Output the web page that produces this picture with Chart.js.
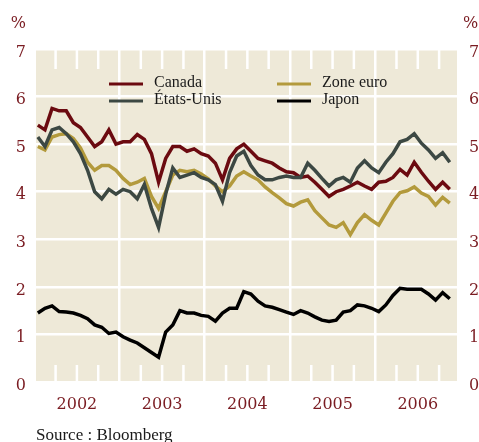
<!DOCTYPE html>
<html lang="fr">
<head>
<meta charset="utf-8">
<title>Rendements obligataires à 10 ans</title>
<script src="https://cdn.jsdelivr.net/npm/chart.js@4.4.1/dist/chart.umd.min.js"></script>
<style>
  html, body { margin: 0; padding: 0; background: #fff; }
  #cadre { position: relative; width: 479px; height: 442px; }
</style>
</head>
<body>
<div id="cadre"><canvas id="graficoTaux"></canvas></div>
<script>
// un point par mois
const mois = [
  '2002-01','2002-02','2002-03','2002-04','2002-05','2002-06','2002-07','2002-08','2002-09','2002-10','2002-11','2002-12',
  '2003-01','2003-02','2003-03','2003-04','2003-05','2003-06','2003-07','2003-08','2003-09','2003-10','2003-11','2003-12',
  '2004-01','2004-02','2004-03','2004-04','2004-05','2004-06','2004-07','2004-08','2004-09','2004-10','2004-11','2004-12',
  '2005-01','2005-02','2005-03','2005-04','2005-05','2005-06','2005-07','2005-08','2005-09','2005-10','2005-11','2005-12',
  '2006-01','2006-02','2006-03','2006-04','2006-05','2006-06','2006-07','2006-08','2006-09','2006-10','2006-11'
];

const canada = [
  5.40, 5.30, 5.75, 5.70, 5.70, 5.45, 5.35, 5.15, 4.95, 5.05, 5.30, 5.00,
  5.05, 5.05, 5.20, 5.10, 4.80, 4.20, 4.70, 4.95, 4.95, 4.85, 4.90, 4.80,
  4.75, 4.60, 4.25, 4.70, 4.90, 5.00, 4.85, 4.70, 4.65, 4.60, 4.50, 4.42,
  4.40, 4.30, 4.33, 4.20, 4.05, 3.90, 4.00, 4.05, 4.12, 4.20, 4.12, 4.05,
  4.20, 4.22, 4.30, 4.47, 4.35, 4.62, 4.41, 4.22, 4.05, 4.20, 4.05
];

const etatsUnis = [
  5.15, 4.95, 5.30, 5.35, 5.22, 5.05, 4.80, 4.45, 4.00, 3.85, 4.05, 3.95,
  4.05, 4.00, 3.85, 4.15, 3.65, 3.25, 3.95, 4.50, 4.30, 4.35, 4.40, 4.30,
  4.25, 4.15, 3.80, 4.40, 4.75, 4.85, 4.55, 4.35, 4.25, 4.25, 4.30, 4.33,
  4.30, 4.30, 4.60, 4.45, 4.28, 4.12, 4.25, 4.30, 4.20, 4.50, 4.65, 4.50,
  4.40, 4.62, 4.80, 5.05, 5.10, 5.22, 5.02, 4.88, 4.70, 4.82, 4.62
];

const zoneEuro = [
  4.95, 4.88, 5.15, 5.20, 5.22, 5.12, 4.92, 4.62, 4.45, 4.55, 4.55, 4.45,
  4.28, 4.15, 4.20, 4.28, 3.90, 3.65, 4.00, 4.35, 4.45, 4.42, 4.45, 4.37,
  4.27, 4.12, 4.00, 4.12, 4.33, 4.42, 4.33, 4.25, 4.10, 3.98, 3.87, 3.75,
  3.70, 3.78, 3.83, 3.60, 3.45, 3.30, 3.25, 3.35, 3.10, 3.35, 3.52, 3.40,
  3.30, 3.55, 3.80, 3.98, 4.02, 4.10, 3.97, 3.90, 3.72, 3.88, 3.76
];

const japon = [
  1.45, 1.55, 1.60, 1.48, 1.47, 1.45, 1.40, 1.33, 1.20, 1.15, 1.02, 1.05,
  0.95, 0.88, 0.82, 0.72, 0.62, 0.52, 1.05, 1.20, 1.50, 1.45, 1.45, 1.40,
  1.38, 1.28, 1.45, 1.55, 1.55, 1.90, 1.85, 1.70, 1.60, 1.57, 1.52, 1.47,
  1.42, 1.50, 1.45, 1.37, 1.30, 1.27, 1.30, 1.47, 1.50, 1.62, 1.60, 1.55,
  1.48, 1.62, 1.82, 1.97, 1.95, 1.95, 1.95, 1.85, 1.72, 1.88, 1.75
];

const annees = ['2002', '2003', '2004', '2005', '2006'];

const rouge = '#7A1C22';
const serif = '"DejaVu Serif", serif';

// '2002-03' -> 2002.208 (milieu du mois)
const enAnnee = m => Number(m.slice(0, 4)) + (Number(m.slice(5)) - 0.5) / 12;
const points = serie => mois.map((m, i) => ({ x: enAnnee(m), y: serie[i] }));

const habillage = {
  id: 'habillage',
  beforeDraw(chart) {
    const { ctx, chartArea: a } = chart;
    ctx.save();
    ctx.fillStyle = '#EEE9D8';
    ctx.fillRect(a.left, a.top, a.right - a.left, a.bottom - a.top);
    ctx.restore();
  },
  beforeDatasetsDraw(chart) {
    // petites graduations trimestrielles en haut et en bas
    const { ctx, chartArea: a, scales } = chart;
    ctx.save();
    ctx.strokeStyle = '#fff';
    ctx.lineWidth = 2.5;
    annees.forEach(an => {
      [0.25, 0.5, 0.75].forEach(q => {
        const x = scales.x.getPixelForValue(Number(an) + q);
        ctx.beginPath();
        ctx.moveTo(x, a.top);
        ctx.lineTo(x, a.top + 20);
        ctx.moveTo(x, a.bottom);
        ctx.lineTo(x, a.bottom - 17);
        ctx.stroke();
      });
    });
    ctx.restore();
  },
  afterDatasetsDraw(chart) {
    // légende sur deux colonnes, dans la zone du graphique
    const { ctx, chartArea: a } = chart;
    ctx.save();
    ctx.font = '16px "Liberation Serif", serif';
    ctx.textBaseline = 'middle';
    ctx.textAlign = 'left';
    chart.data.datasets.forEach((ds, i) => {
      const col = Math.floor(i / 2);
      const row = i % 2;
      const x0 = a.left + (col === 0 ? 73 : 241);
      const y = a.top + 35 + row * 17;
      ctx.strokeStyle = ds.borderColor;
      ctx.lineWidth = 3;
      ctx.beginPath();
      ctx.moveTo(x0, y);
      ctx.lineTo(x0 + 34, y);
      ctx.stroke();
      ctx.fillStyle = '#1a1a1a';
      ctx.fillText(ds.label, x0 + 45, y - 1);
    });
    ctx.restore();
  },
  afterDraw(chart) {
    const { ctx, chartArea: a } = chart;
    ctx.save();
    ctx.fillStyle = rouge;
    ctx.font = '16px ' + serif;
    ctx.textBaseline = 'middle';
    ctx.textAlign = 'right';
    ctx.fillText('%', a.left - 10, 24);
    ctx.textAlign = 'left';
    ctx.fillText('%', a.right + 6, 24);
    ctx.fillStyle = '#1a1a1a';
    ctx.font = '17px "Liberation Serif", serif';
    ctx.textBaseline = 'alphabetic';
    ctx.fillText('Source : Bloomberg', a.left, 440);
    ctx.restore();
  }
};

function inicializarGrafico() {
  const ctx = document.getElementById('graficoTaux').getContext('2d');
  const ligne = (label, data, couleur, ordre) => ({
    label,
    data: points(data),
    borderColor: couleur,
    borderWidth: 3.5,
    pointRadius: 0,
    tension: 0,
    order: ordre
  });
  const eixoY = (position, largeur, grille) => ({
    position,
    min: 0,
    max: 7,
    ticks: { stepSize: 1, color: rouge, font: { family: serif, size: 16 }, padding: position === 'left' ? 10 : 12, labelOffset: 3.5 },
    grid: { display: grille, color: '#fff', lineWidth: 2.5, drawTicks: false },
    border: { display: false },
    afterFit: s => { s.width = largeur; }
  });

  new Chart(ctx, {
    type: 'line',
    data: {
      datasets: [
        ligne('Canada', canada, '#6B0A10', 2),
        ligne('États-Unis', etatsUnis, '#3C4843', 1),
        ligne('Zone euro', zoneEuro, '#B39A3C', 3),
        ligne('Japon', japon, '#000000', 4)
      ]
    },
    options: {
      responsive: true,
      maintainAspectRatio: false,
      animation: false,
      layout: { padding: { top: 49, left: 0, right: 0, bottom: 0 } },
      plugins: { legend: { display: false }, tooltip: { enabled: false } },
      scales: {
        x: {
          type: 'linear',
          bounds: 'data',
          min: 2002.02,
          max: 2006.96,
          afterBuildTicks: s => { s.ticks = annees.map(an => ({ value: Number(an) + 0.5 })); },
          ticks: {
            callback: (v, i) => annees[i],
            color: rouge,
            font: { family: serif, size: 16 },
            padding: 13,
            maxRotation: 0,
            autoSkip: false
          },
          grid: { color: '#fff', lineWidth: 2.5, drawTicks: false, offset: true },
          border: { display: false },
          afterFit: s => { s.height = 60; }
        },
        y: eixoY('left', 36, true),
        y2: eixoY('right', 22, false)
      }
    },
    plugins: [habillage]
  });
}

window.onload = () => {
  inicializarGrafico();
};
</script>
</body>
</html>
